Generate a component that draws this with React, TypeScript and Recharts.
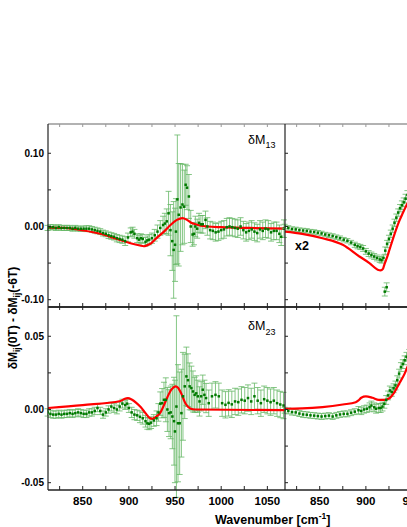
import React from 'react';
import { ComposedChart, Scatter, Line, XAxis, YAxis, ErrorBar } from 'recharts';

type P3 = [number, number, number];
type P2 = [number, number];

// ---- axes ----
const xDomain: [number, number] = [812.4, 1069.1];
const xTicks = [825, 850, 875, 900, 925, 950, 975, 1000, 1025, 1050];
const xMajorTicks = [850, 900, 950, 1000, 1050];

const topDomain: [number, number] = [-0.11, 0.14];
const topTicks = [-0.1, -0.05, 0, 0.05, 0.1];
const topMajorTicks = [-0.1, 0, 0.1];
const botDomain: [number, number] = [-0.055, 0.07];
const botTicks = [-0.05, -0.025, 0, 0.025, 0.05];
const botMajorTicks = [-0.05, 0, 0.05];

// ---- dM13, left panel: [wavenumber, value, error] ----
const m13LeftPoints: P3[] = [
  [812,-0.002,0.0035],[815,-0.001,0.0035],[818,-0.001,0.0035],[821,-0.002,0.0035],[824,-0.001,0.0035],
  [827,-0.002,0.0035],[830,-0.002,0.0035],[833,-0.002,0.0035],[836,-0.002,0.0035],[839,-0.003,0.0035],
  [842,-0.002,0.0035],[845,-0.003,0.0035],[848,-0.003,0.0035],[851,-0.003,0.0035],[854,-0.003,0.004],
  [857,-0.003,0.004],[860,-0.004,0.004],[863,-0.005,0.004],[866,-0.006,0.004],[869,-0.007,0.004],
  [872,-0.009,0.004],[875,-0.010,0.004],[878,-0.012,0.0045],[881,-0.013,0.0045],[884,-0.014,0.0045],
  [887,-0.016,0.005],[890,-0.017,0.005],[893,-0.018,0.005],[896,-0.020,0.006],[899,-0.015,0.006],
  [902,-0.008,0.006],[904,-0.007,0.006],[906,-0.010,0.006],[909,-0.016,0.006],[911,-0.018,0.006],
  [913,-0.016,0.006],[915,-0.017,0.006],[918,-0.021,0.006],[920,-0.019,0.006],[922,-0.018,0.007],
  [925,-0.016,0.007],[928,-0.012,0.008],[931,-0.007,0.009],[934,-0.002,0.01],[937,0.002,0.012],
  [939,0.004,0.014],[941,0.007,0.017],[943,0.018,0.03],[945,-0.005,0.035],[947,-0.020,0.04],
  [948.5,-0.032,0.066],[950,-0.025,0.05],[951,-0.007,0.045],[952.5,0.037,0.088],[954,0.016,0.07],
  [956,0.026,0.06],[958,0.030,0.055],[960,0.027,0.05],[961.5,0.057,0.028],[963,0.053,0.03],
  [965,0.041,0.03],[967,0.000,0.022],[969,-0.011,0.016],[970.5,-0.010,0.015],[972,0.000,0.014],
  [974,-0.003,0.013],[976,0.005,0.013],[978,0.003,0.012],[980,0.003,0.012],[983,0.009,0.012],
  [985,0.000,0.012],[988,-0.005,0.012],[991,-0.006,0.012],[994,-0.008,0.012],[997,-0.007,0.012],
  [1000,-0.005,0.012],[1003,-0.004,0.012],[1006,-0.001,0.012],[1009,0.000,0.012],[1012,-0.001,0.012],
  [1015,-0.002,0.012],[1018,-0.003,0.012],[1021,0.000,0.012],[1024,-0.005,0.012],[1027,-0.008,0.012],
  [1030,-0.006,0.012],[1033,-0.004,0.012],[1036,-0.007,0.012],[1039,-0.009,0.012],[1042,-0.004,0.012],
  [1045,-0.006,0.012],[1048,-0.003,0.012],[1051,-0.004,0.012],[1054,-0.008,0.012],[1057,-0.006,0.012],
  [1060,-0.006,0.012],[1063,-0.010,0.012],[1065,-0.014,0.012],[1068,-0.003,0.012],
];
const m13LeftFit: P2[] = [
  [812,-0.0015],[830,-0.002],[851,-0.0055],[869,-0.010],[887,-0.017],[905,-0.024],[912,-0.026],
  [916,-0.027],[920,-0.0255],[924,-0.023],[931,-0.0145],[938,-0.007],[945,0.002],[952,0.009],
  [958,0.0115],[963,0.009],[967,0.0055],[972,0.003],[978,0.001],[985,0.0],[1000,-0.001],
  [1030,-0.002],[1069,-0.003],
];

// ---- dM13 x2, right panel ----
const m13RightPoints: P3[] = [
  [812,0.0,0.003],[816,-0.002,0.003],[820,-0.0035,0.003],[824,-0.004,0.003],[828,-0.005,0.003],
  [832,-0.0055,0.003],[836,-0.006,0.003],[840,-0.007,0.003],[844,-0.0075,0.003],[848,-0.0085,0.003],
  [852,-0.0095,0.003],[856,-0.011,0.003],[860,-0.012,0.003],[864,-0.013,0.003],[868,-0.0146,0.003],
  [872,-0.016,0.003],[876,-0.018,0.003],[880,-0.0195,0.003],[884,-0.022,0.003],[888,-0.025,0.0035],
  [891,-0.027,0.0035],[894,-0.028,0.0035],[897,-0.030,0.004],[900,-0.034,0.004],[903,-0.037,0.004],
  [906,-0.039,0.004],[909,-0.041,0.004],[912,-0.043,0.004],[915,-0.045,0.004],[917,-0.046,0.004],
  [919,-0.043,0.004],[921,-0.033,0.005],[923,-0.024,0.005],[925,-0.017,0.005],[927,-0.010,0.005],
  [929,-0.003,0.005],[931,0.005,0.005],[933,0.012,0.005],[935,0.019,0.005],[937,0.025,0.005],
  [939,0.029,0.006],[941,0.033,0.006],[943,0.038,0.006],[945,0.043,0.006],[948,0.047,0.006],
  [951,0.051,0.006],[920.5,-0.089,0.006],[922.5,-0.083,0.006],
];
const m13RightFit: P2[] = [
  [812,-0.007],[831,-0.010],[853,-0.016],[875,-0.025],[893,-0.041],[903.8,-0.050],[912.8,-0.059],
  [916,-0.060],[918.5,-0.058],[920,-0.052],[923,-0.042],[925.5,-0.032],[932.6,-0.0045],[936,0.007],
  [939.9,0.018],[945.3,0.032],[950,0.042],
];

// ---- dM23, left panel ----
const m23LeftPoints: P3[] = [
  [812,-0.002,0.0025],[815,-0.003,0.0025],[818,-0.0035,0.0025],[821,-0.0035,0.0025],[824,-0.003,0.0025],
  [827,-0.0035,0.0025],[830,-0.003,0.0025],[833,-0.003,0.0025],[836,-0.0025,0.0025],[839,-0.003,0.0025],
  [842,-0.0025,0.0025],[845,-0.002,0.0025],[848,-0.0025,0.0025],[851,-0.003,0.0025],[854,-0.003,0.0025],
  [857,-0.002,0.0025],[860,-0.002,0.0025],[863,-0.001,0.0025],[866,0.001,0.0025],[869,-0.001,0.0025],
  [872,-0.0035,0.0025],[875,-0.002,0.0025],[878,0.0,0.0025],[881,0.002,0.003],[884,0.001,0.003],
  [887,0.0,0.003],[890,0.002,0.003],[893,0.004,0.003],[896,0.003,0.003],[898,0.004,0.003],
  [900,0.001,0.003],[903,-0.002,0.0035],[906,-0.0035,0.0035],[909,-0.004,0.0035],[912,-0.005,0.004],
  [915,-0.006,0.004],[918,-0.008,0.004],[920,-0.0095,0.004],[922,-0.0098,0.004],[924,-0.009,0.004],
  [927,-0.0075,0.004],[930,-0.006,0.005],[932,-0.002,0.006],[934,0.004,0.008],[936,0.0043,0.01],
  [938,0.0066,0.012],[940,0.0066,0.015],[941.7,0.0,0.015],[943.5,-0.0025,0.016],[945.3,-0.002,0.018],
  [947.1,-0.0048,0.022],[948.9,-0.008,0.03],[949.9,-0.015,0.035],[951.5,0.002,0.062],[953.2,-0.0094,0.04],
  [955,-0.0094,0.035],[956.9,-0.0025,0.03],[958.6,0.009,0.03],[960.5,0.0158,0.022],[962.3,0.0226,0.02],
  [964,0.020,0.018],[965.8,0.0158,0.016],[967.7,0.0146,0.015],[969.4,0.0123,0.014],[971.2,0.010,0.012],
  [973,0.011,0.012],[974.6,0.009,0.011],[976.5,0.0055,0.01],[978.3,0.009,0.01],[980,0.0135,0.01],
  [981.8,0.010,0.01],[983.6,0.0078,0.01],[986.5,0.0043,0.009],[990,0.009,0.009],[993.8,0.010,0.009],
  [997.4,0.009,0.009],[1001,0.0043,0.009],[1004.6,0.0032,0.009],[1008,0.0045,0.009],[1011.5,0.0035,0.009],
  [1015,0.0055,0.009],[1018.5,0.005,0.009],[1022,0.0066,0.009],[1025.5,0.006,0.009],[1029,0.0078,0.009],
  [1032.5,0.0055,0.009],[1036,0.009,0.009],[1039.5,0.006,0.009],[1043,0.0043,0.009],[1046.5,0.007,0.009],
  [1050,0.006,0.009],[1053.5,0.005,0.009],[1057,0.006,0.009],[1060.5,0.0043,0.009],[1064,0.0034,0.009],
  [1067.5,0.0027,0.009],
];
const m23LeftFit: P2[] = [
  [812,0.001],[850,0.003],[891,0.0058],[895,0.0072],[899,0.0078],[903,0.0068],[908,0.0045],
  [913,0.0015],[918,-0.0025],[922,-0.0055],[925.5,-0.0064],[929,-0.0052],[934.4,-0.0018],[938,0.003],
  [941.7,0.0084],[946,0.0135],[950.7,0.0158],[953,0.015],[956,0.0119],[961.5,0.0039],[967,0.0005],
  [972,0.0],[1069,-0.0005],
];

// ---- dM23, right panel ----
const m23RightPoints: P3[] = [
  [812,-0.0005,0.002],[816,-0.001,0.002],[820,-0.0018,0.002],[824,-0.002,0.002],[828,-0.0028,0.002],
  [832,-0.0034,0.002],[836,-0.0036,0.002],[840,-0.004,0.002],[844,-0.0042,0.002],[848,-0.0045,0.002],
  [852,-0.0048,0.002],[856,-0.0045,0.002],[860,-0.0042,0.002],[864,-0.0048,0.002],[868,-0.004,0.002],
  [872,-0.0034,0.002],[876,-0.003,0.002],[880,-0.003,0.002],[884,-0.0022,0.002],[888,-0.0015,0.002],
  [892,-0.0005,0.0025],[895,-0.001,0.0025],[898,0.0,0.0025],[901,0.0005,0.0025],[904,0.0015,0.003],
  [906,0.0027,0.003],[909,0.0015,0.003],[911,0.0005,0.003],[914,0.001,0.003],[916,0.001,0.003],
  [918,0.002,0.003],[920,0.0039,0.003],[922,0.0065,0.003],[924,0.0096,0.003],[926,0.013,0.003],
  [928,0.012,0.003],[930,0.0145,0.003],[932,0.0164,0.003],[934,0.02,0.003],[936,0.0245,0.003],
  [938,0.029,0.003],[940,0.031,0.003],[942,0.0336,0.003],[944,0.036,0.003],[947,0.038,0.003],
];
const m23RightFit: P2[] = [
  [812,0.0005],[831,0.0007],[853,0.0016],[875,0.0034],[889,0.005],[892,0.0062],[895,0.008],
  [900,0.0089],[907,0.008],[914,0.0066],[920,0.0066],[925,0.0075],[931,0.0119],[936,0.0176],
  [942,0.0245],[945,0.029],[950,0.036],
];

const FONT = "Arial, 'Liberation Sans', Helvetica, sans-serif";
const AXIS = '#222222';
const TOPAXIS = '#999999';

const toPts = (a: P3[]) => a.map(([w, v, e]) => ({ w, v, e }));
const toFit = (a: P2[]) => a.map(([w, v]) => ({ w, v }));

const isIn = (arr: number[], v: number) => arr.some((m) => Math.abs(m - v) < 1e-9);

const leftTick = (majors: number[], showLabel: boolean) => (p: any) => {
  const v = p.payload.value;
  return (
    <g>
      <line x1={p.x} x2={p.x + 3} y1={p.y} y2={p.y} stroke={AXIS} strokeWidth={1} />
      {showLabel && isIn(majors, v) ? (
        <text x={p.x - 4} y={p.y} dy="0.36em" textAnchor="end" fontSize={10} fontWeight="bold" fontFamily={FONT} fill="#000">
          {v.toFixed(2)}
        </text>
      ) : null}
    </g>
  );
};

const bottomTick = (showLabel: boolean) => (p: any) => {
  const v = p.payload.value;
  return (
    <g>
      <line x1={p.x} x2={p.x} y1={p.y} y2={p.y - 4} stroke={AXIS} strokeWidth={1} />
      {showLabel && isIn(xMajorTicks, v) ? (
        <text x={p.x} y={p.y + 15} textAnchor="middle" fontSize={11.5} fontWeight="bold" fontFamily={FONT} fill="#000">
          {v}
        </text>
      ) : null}
    </g>
  );
};

const topTick = (color: string) => (p: any) => (
  <line x1={p.x} x2={p.x} y1={p.y} y2={p.y + 3} stroke={color} strokeWidth={1} />
);

const dotShape = (p: any) => (
  <rect x={p.cx - 1.25} y={p.cy - 1.25} width={2.5} height={2.5} fill="#007a00" />
);

type PanelProps = {
  left: number; top: number; width: number; height: number;
  margin: { top: number; right: number; bottom: number; left: number };
  yAxisWidth: number; xAxisHeight: number; showYLabels: boolean; showXLabels: boolean;
  yDomain: [number, number]; yTicks: number[]; yMajor: number[]; topColor: string;
  points: { w: number; v: number; e: number }[]; fit: { w: number; v: number }[];
};

function Panel(pr: PanelProps) {
  return (
    <div style={{ position: 'absolute', left: pr.left, top: pr.top }}>
      <ComposedChart width={pr.width} height={pr.height} margin={pr.margin}>
        <XAxis xAxisId="b" type="number" dataKey="w" domain={xDomain} allowDataOverflow ticks={xTicks}
          interval={0} tickSize={0} tickMargin={0} height={pr.xAxisHeight}
          axisLine={{ stroke: AXIS, strokeWidth: 1.3 }} tickLine={false} tick={bottomTick(pr.showXLabels)} />
        <XAxis xAxisId="t" orientation="top" type="number" dataKey="w" domain={xDomain} allowDataOverflow
          ticks={xTicks} interval={0} tickSize={0} tickMargin={0} height={1}
          axisLine={{ stroke: pr.topColor, strokeWidth: 1.5 }} tickLine={false} tick={topTick(pr.topColor)} />
        <YAxis type="number" dataKey="v" domain={pr.yDomain} allowDataOverflow ticks={pr.yTicks} interval={0}
          tickSize={0} tickMargin={0} width={pr.yAxisWidth}
          axisLine={{ stroke: AXIS, strokeWidth: 1.2 }} tickLine={false} tick={leftTick(pr.yMajor, pr.showYLabels)} />
        <Scatter xAxisId="b" data={pr.points} dataKey="v" shape={dotShape} isAnimationActive={false}>
          <ErrorBar dataKey="e" direction="y" width={3} stroke="#66b866" strokeWidth={0.8} isAnimationActive={false} />
        </Scatter>
        <Line xAxisId="b" data={pr.fit} dataKey="v" type="monotone" stroke="#ff0000" strokeWidth={2.2}
          dot={false} activeDot={false} isAnimationActive={false} />
      </ComposedChart>
    </div>
  );
}

export default function App() {
  return (
    <div style={{ position: 'fixed', left: 0, top: 0, width: 407, height: 527, overflow: 'hidden', background: '#fff' }}>
      <Panel left={0.5} top={113.5} width={290} height={200} margin={{ top: 9, right: 6, bottom: 6, left: 0 }}
        yAxisWidth={47} xAxisHeight={1} showYLabels showXLabels={false}
        yDomain={topDomain} yTicks={topTicks} yMajor={topMajorTicks} topColor={TOPAXIS}
        points={toPts(m13LeftPoints)} fit={toFit(m13LeftFit)} />
      <Panel left={279.5} top={113.5} width={260} height={200} margin={{ top: 9, right: 18, bottom: 6, left: 4 }}
        yAxisWidth={1} xAxisHeight={1} showYLabels={false} showXLabels={false}
        yDomain={topDomain} yTicks={topTicks} yMajor={topMajorTicks} topColor={TOPAXIS}
        points={toPts(m13RightPoints)} fit={toFit(m13RightFit)} />
      <Panel left={0.5} top={296.5} width={290} height={230} margin={{ top: 9, right: 6, bottom: 0, left: 0 }}
        yAxisWidth={47} xAxisHeight={37} showYLabels showXLabels
        yDomain={botDomain} yTicks={botTicks} yMajor={botMajorTicks} topColor={AXIS}
        points={toPts(m23LeftPoints)} fit={toFit(m23LeftFit)} />
      <Panel left={279.5} top={296.5} width={260} height={230} margin={{ top: 9, right: 18, bottom: 0, left: 4 }}
        yAxisWidth={1} xAxisHeight={37} showYLabels={false} showXLabels
        yDomain={botDomain} yTicks={botTicks} yMajor={botMajorTicks} topColor={AXIS}
        points={toPts(m23RightPoints)} fit={toFit(m23RightFit)} />
      <svg width={407} height={527} style={{ position: 'absolute', left: 0, top: 0, pointerEvents: 'none' }}>
        <text x={248} y={143.5} fontFamily={FONT} fontSize={12.5} fill="#000">
          δM<tspan fontSize={9} dy={4.8}>13</tspan>
        </text>
        <text x={248} y={330} fontFamily={FONT} fontSize={12.5} fill="#000">
          δM<tspan fontSize={9} dy={4.8}>23</tspan>
        </text>
        <text x={295} y={250} fontFamily={FONT} fontSize={12.5} fontWeight="bold" fill="#000">x2</text>
        <text transform="translate(17,318) rotate(-90)" textAnchor="middle" fontFamily={FONT} fontSize={12}
          fontWeight="bold" fill="#000">
          δM<tspan fontSize={8.5} dy={3}>ij</tspan>
          <tspan dy={-3}>(0T) - δM</tspan>
          <tspan fontSize={8.5} dy={3}>ij</tspan>
          <tspan dy={-3}>(-6T)</tspan>
        </text>
        <text x={215} y={524} fontFamily={FONT} fontSize={12.5} fontWeight="bold" fill="#000">
          Wavenumber [cm<tspan fontSize={8.5} dy={-5}>-1</tspan>
          <tspan dy={5}>]</tspan>
        </text>
      </svg>
    </div>
  );
}
